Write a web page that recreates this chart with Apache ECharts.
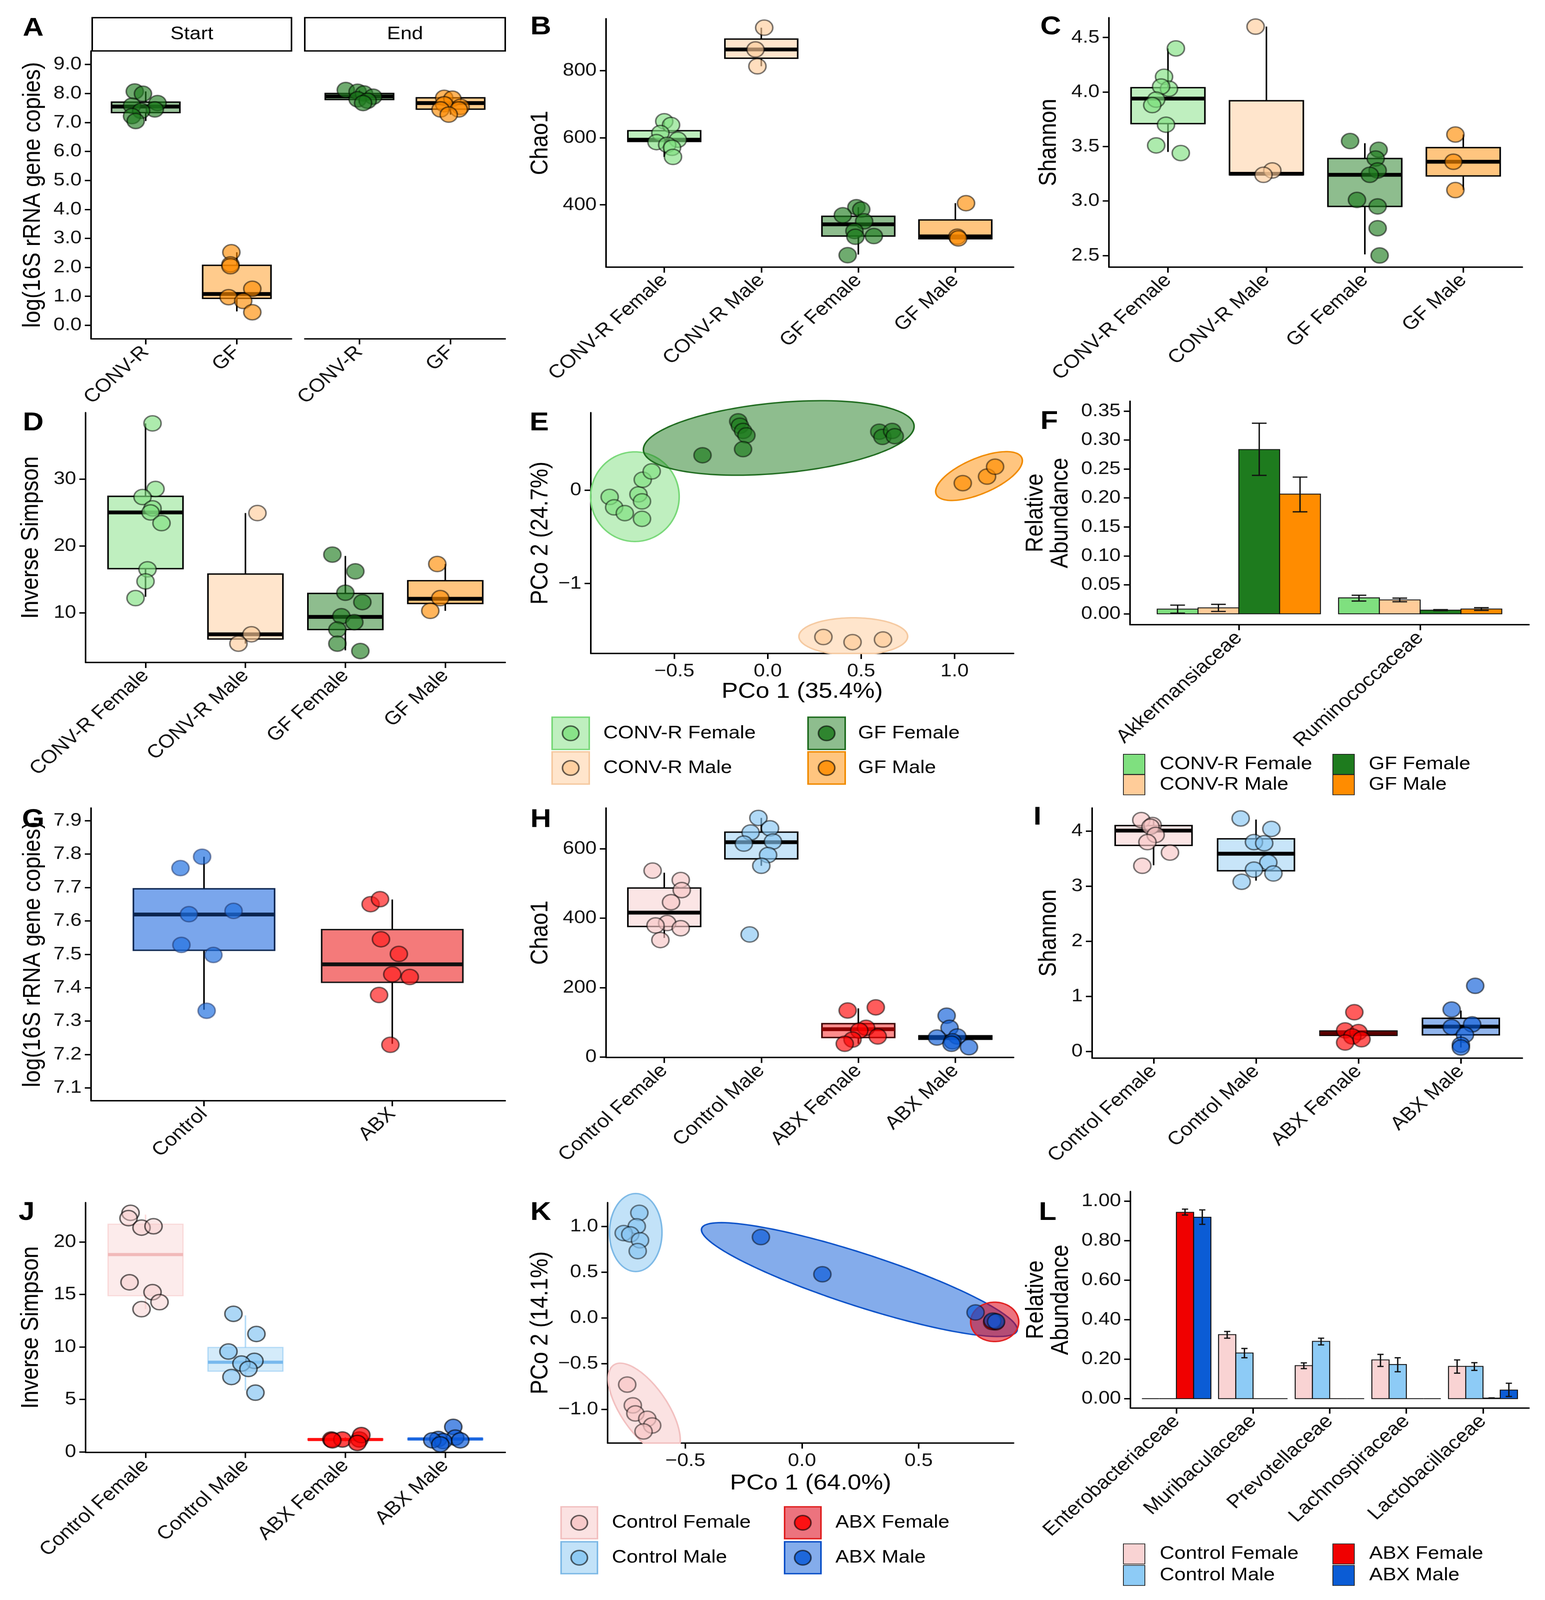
<!DOCTYPE html>
<html><head><meta charset="utf-8">
<script src="https://cdn.jsdelivr.net/npm/echarts@6/dist/echarts.min.js"></script>
<style>html,body{margin:0;padding:0;background:#fff;overflow:hidden}#chart{width:3954px;height:4618px;transform-origin:0 0}</style>
</head><body><div id="chart"></div>
<script>
// ================= DATA =================
const groupsCG = ['CONV-R Female','CONV-R Male','GF Female','GF Male'];
const groupsAB = ['Control Female','Control Male','ABX Female','ABX Male'];

// Panel A
const A_facets = ['Start','End'];
const A_cats = ['CONV-R','GF'];
const A_yTicks = [0,1,2,3,4,5,6,7,8,9];
const A_start_values = [[8.07,7.99,7.67,7.58,7.45,7.40,7.22,7.05],[2.52,2.10,2.04,1.26,0.97,0.84,0.45]];
const A_start_jitter = [[-0.12,-0.03,0.13,-0.15,0.10,-0.05,-0.15,-0.11],[-0.06,-0.07,-0.07,0.17,-0.09,0.07,0.17]];
const A_start_box = [[7.05,7.34,7.55,7.70,8.07],[0.48,0.93,1.08,2.07,2.52]];
const A_end_values = [[8.12,8.06,8.00,7.89,7.80,7.75,7.67],[7.85,7.82,7.63,7.54,7.45,7.45,7.27]];
const A_end_jitter = [[-0.15,-0.02,0.05,0.15,-0.02,0.09,0.04],[-0.07,0.02,-0.07,0.11,-0.11,0.09,-0.02]];
const A_end_box = [[7.67,7.79,7.90,8.00,8.12],[7.27,7.46,7.67,7.85,7.85]];

// Panel B (Chao1)
const B_yTicks = [400,600,800];
const B_values = [[649,638,614,594,587,579,570,543],[928,863,813],[393,386,369,351,322,307,305,250],[405,305,300]];
const B_jitter = [[0.0,0.07,-0.04,0.14,-0.08,0.03,0.08,0.09],[0.03,-0.06,-0.04],[-0.02,0.03,-0.16,0.06,-0.04,0.16,-0.03,-0.11],[0.11,0.02,0.03]];
const B_box = [[543,589,594,621,649],[813,837,863,894,928],[252,307,342,366,393],[299,299,306,355,405]];

// Panel C (Shannon)
const C_yTicks = [2.5,3.0,3.5,4.0,4.5];
const C_values = [[4.40,4.14,4.03,4.05,3.93,3.88,3.70,3.51,3.44],[4.60,3.28,3.24],[3.55,3.47,3.39,3.28,3.24,3.01,2.95,2.75,2.50],[3.61,3.36,3.10]];
const C_jitter = [[0.08,-0.04,0.01,-0.07,-0.12,-0.16,-0.02,-0.12,0.13],[-0.11,0.06,-0.03],[-0.15,0.14,0.11,0.13,0.05,-0.08,0.13,0.13,0.15],[-0.08,-0.10,-0.08]];
const C_box = [[3.45,3.71,3.94,4.04,4.40],[3.24,3.24,3.25,3.92,4.60],[2.51,2.95,3.24,3.39,3.53],[3.10,3.23,3.36,3.49,3.61]];

// Panel D (Inverse Simpson)
const D_yTicks = [10,20,30];
const D_values = [[38.3,28.5,27.3,25.6,25.0,23.4,16.5,14.7,12.2],[24.9,6.8,5.4],[18.7,16.2,13.0,11.6,9.5,8.6,7.5,5.4,4.3],[17.3,12.2,10.3]];
const D_jitter = [[0.07,0.10,-0.03,0.07,0.05,0.16,0.02,0.0,-0.10],[0.12,0.06,-0.07],[-0.13,0.10,0.0,0.17,-0.04,0.09,-0.08,-0.08,0.15],[-0.08,-0.05,-0.15]];
const D_box = [[12.4,16.6,25.0,27.4,38.3],[5.4,6.1,6.8,15.8,24.9],[4.4,7.5,9.4,12.9,18.5],[10.3,11.4,12.1,14.8,17.3]];

// Panel E (PCoA)
const E_xTicks = [-0.5,0,0.5,1.0];
const E_yTicks = [-1,0];
const E_x = [[-0.846,-0.822,-0.765,-0.692,-0.673,-0.673,-0.669,-0.621],[0.298,0.454,0.617],[-0.349,-0.158,-0.149,-0.132,-0.114,-0.132,0.597,0.614,0.666,0.680],[1.044,1.174,1.217]];
const E_y = [[-0.073,-0.184,-0.246,-0.045,-0.120,-0.307,0.112,0.201],[-1.573,-1.628,-1.600],[0.374,0.737,0.690,0.634,0.587,0.439,0.626,0.570,0.634,0.578],[0.075,0.145,0.251]];
// ellipse: centre x, centre y, semi-axis u (x,y), semi-axis v (x,y)
const E_ellipse = [[-0.711,-0.07,0.237,0,0,0.48],[0.458,-1.567,0.291,0,0,0.20],[0.059,0.559,0.724,0.139,-0.028,0.374],[1.131,0.151,0.225,0.209,0.0564,-0.157]];

// Panel F (relative abundance)
const F_cats = ['Akkermansiaceae','Ruminococcaceae'];
const F_yTicks = [0,0.05,0.10,0.15,0.20,0.25,0.30,0.35];
const F_mean = [[0.008,0.0275],[0.0103,0.0239],[0.2835,0.0063],[0.2066,0.0081]];
const F_lo = [[0.001,0.022],[0.004,0.0207],[0.239,0.0055],[0.176,0.0058]];
const F_hi = [[0.0149,0.032],[0.0162,0.027],[0.329,0.0071],[0.236,0.0105]];

// Panel G
const G_cats = ['Control','ABX'];
const G_yTicks = [7.1,7.2,7.3,7.4,7.5,7.6,7.7,7.8,7.9];
const G_values = [[7.792,7.758,7.620,7.630,7.528,7.498,7.331],[7.650,7.665,7.545,7.501,7.440,7.432,7.378,7.229]];
const G_jitter = [[-0.01,-0.125,-0.08,0.157,-0.12,0.05,0.014],[-0.115,-0.065,-0.06,0.035,0.0,0.093,-0.07,-0.01]];
const G_box = [[7.334,7.512,7.619,7.696,7.792],[7.232,7.416,7.470,7.574,7.664]];

// Panel H (Chao1)
const H_yTicks = [0,200,400,600];
const H_values = [[537,510,481,446,386,379,371,337],[689,659,647,621,615,582,551,353],[134,143,84,76,59,50,38],[119,84,56,59,45,28,38]];
const H_jitter = [[-0.12,0.17,0.18,0.07,0.03,-0.09,0.17,-0.04],[-0.03,0.09,-0.11,0.12,-0.18,0.07,0.0,-0.12],[-0.11,0.18,0.08,0.01,0.2,-0.06,-0.14],[-0.09,-0.06,-0.19,0.02,-0.03,0.14,-0.04]];
const H_box = [[343,376,416,487,531],[551,571,619,648,689],[38,56,80,96,140],[51,51,56,61,61]];

// Panel I (Shannon)
const I_yTicks = [0,1,2,3,4];
const I_values = [[4.20,4.11,4.08,3.93,3.80,3.61,3.37],[4.23,4.04,3.80,3.78,3.43,3.30,3.23,3.08],[0.71,0.38,0.35,0.27,0.22,0.16],[1.19,0.76,0.49,0.44,0.30,0.12,0.07]];
const I_jitter = [[-0.12,-0.01,-0.03,0.02,-0.06,0.16,-0.11],[-0.15,0.15,-0.02,0.08,0.12,-0.02,0.17,-0.14],[-0.04,-0.13,0.0,-0.06,0.03,-0.13],[0.14,-0.09,0.11,-0.09,0.04,0.0,0.0]];
const I_box = [[3.38,3.74,4.01,4.10,4.20],[3.10,3.28,3.59,3.86,4.21],[0.29,0.29,0.33,0.37,0.37],[0.07,0.30,0.45,0.60,0.74]];

// Panel J (Inverse Simpson)
const J_yTicks = [0,5,10,15,20];
const J_values = [[22.77,22.26,21.36,21.49,16.15,15.21,14.26,13.59],[13.15,11.23,9.56,8.67,8.41,7.90,7.13,5.64],[1.18,1.18,1.18,1.6,0.85,1.1],[2.38,1.23,1.36,1.03,1.10,1.1,0.72]];
const J_jitter = [[-0.15,-0.17,-0.04,0.08,-0.16,0.07,0.14,-0.04],[-0.12,0.11,-0.17,0.09,-0.04,0.03,-0.14,0.10],[-0.14,-0.03,0.14,0.16,0.12,-0.13],[0.08,-0.07,0.10,-0.02,0.15,-0.13,-0.05]];
const J_box = [[13.6,14.87,18.79,21.69,22.6],[5.85,7.69,8.54,9.95,13.0],[1.0,1.12,1.18,1.25,1.4],[1.03,1.15,1.23,1.3,1.4]];

// Panel K (PCoA)
const K_xTicks = [-0.5,0,0.5];
const K_yTicks = [-1,-0.5,0,0.5,1];
const K_x = [[-0.749,-0.725,-0.714,-0.663,-0.642,-0.679],[-0.697,-0.708,-0.764,-0.736,-0.694,-0.704],[0.824,0.818,0.830,0.826,0.815],[-0.176,0.0875,0.744,0.817,0.832]];
const K_y = [[-0.729,-0.956,-1.044,-1.103,-1.176,-1.241],[1.147,1.0,0.926,0.912,0.847,0.729],[-0.044,-0.040,-0.050,-0.035,-0.046],[0.882,0.476,0.059,-0.03,-0.04]];
const K_ellipse = [[-0.676,-1.0,0.124,-0.494,0.092,0.103],[-0.7125,0.932,0.1125,0,0,0.426],[0.826,-0.044,0.103,0,0,0.215],[0.246,0.418,0.675,-0.565,-0.05,-0.26]];

// Panel L (relative abundance)
const L_cats = ['Enterobacteriaceae','Muribaculaceae','Prevotellaceae','Lachnospiraceae','Lactobacillaceae'];
const L_yTicks = [0,0.2,0.4,0.6,0.8,1.0];
const L_mean = [[0,0.324,0.167,0.196,0.163],[0,0.231,0.290,0.173,0.163],[0.943,0,0,0,0.003],[0.918,0,0,0,0.0435]];
const L_lo = [[0,0.306,0.152,0.163,0.129],[0,0.207,0.272,0.136,0.143],[0.929,0,0,0,0.002],[0.882,0,0,0,0.011]];
const L_hi = [[0,0.340,0.181,0.224,0.196],[0,0.254,0.306,0.207,0.182],[0.959,0,0,0,0.004],[0.955,0,0,0,0.078]];

// ================= FIT TO VIEWPORT =================
// the figure is laid out at 3954x4618 and scaled with CSS to the real viewport
const W0 = 3954, H0 = 4618;
const VW = window.innerWidth || W0, VH = window.innerHeight || H0;
const el = document.getElementById('chart');
el.style.transform = 'scale(' + (VW / W0) + ',' + (VH / H0) + ')';

// ================= STYLE / HELPERS =================
const FONT = '"Liberation Sans", Arial, Helvetica, sans-serif';
const TXT = '#111';
const CG_col = ['#7FE07F','#FFCC99','#1E7B1E','#FF8C00'];
const AB_col = ['#F7C5C5','#85C5F2','#FF0000','#0A5AD8'];
function rgba(hex,a){const n=parseInt(hex.slice(1),16);return 'rgba('+((n>>16)&255)+','+((n>>8)&255)+','+(n&255)+','+a+')';}
const minus = s => String(s).replace('-', '\u2212');

const option = {animation:false, backgroundColor:'#fff', grid:[], xAxis:[], yAxis:[], series:[], graphic:[]};

function baseAxis(){
  return {type:'value', splitLine:{show:false},
    axisLine:{show:true, onZero:false, lineStyle:{color:'#000', width:4}},
    axisTick:{show:true, length:16, lineStyle:{color:'#000', width:4}},
    axisLabel:{fontSize:52, color:TXT, fontFamily:FONT, margin:24},
    nameTextStyle:{fontSize:63, color:'#000', fontFamily:FONT, lineHeight:64}};
}
function addGrid(r){
  option.grid.push({left:r[0], top:r[1], width:r[2], height:r[3], containLabel:false, outerBoundsMode:'none'});
  return option.grid.length-1;
}
function catX(gi, cats){
  const t = cats.map((c,i)=>i+1);
  const ax = baseAxis();
  ax.gridIndex = gi; ax.min = 0.4; ax.max = cats.length + 0.6;
  ax.axisTick.customValues = t; ax.axisLabel.customValues = t;
  ax.axisLabel.formatter = v => cats[Math.round(v)-1];
  ax.axisLabel.rotate = 45; ax.axisLabel.margin = 30; ax.axisLabel.fontSize = 54;
  option.xAxis.push(ax);
}
function valX(gi, min, max, ticks, fmt, name, gap){
  const ax = baseAxis();
  ax.gridIndex = gi; ax.min = min; ax.max = max;
  ax.axisTick.customValues = ticks; ax.axisLabel.customValues = ticks;
  ax.axisLabel.formatter = fmt; ax.axisLabel.margin = 26;
  if (name){ ax.name = name; ax.nameLocation = 'middle'; ax.nameGap = gap; }
  option.xAxis.push(ax);
}
function valY(gi, min, max, ticks, fmt, name, gap, hidden){
  const ax = baseAxis();
  ax.gridIndex = gi; ax.min = min; ax.max = max;
  ax.axisTick.customValues = ticks; ax.axisLabel.customValues = ticks;
  ax.axisLabel.formatter = fmt;
  if (name){ ax.name = name; ax.nameLocation = 'middle'; ax.nameGap = gap; ax.nameRotate = 90; }
  if (hidden){ ax.axisLine.show=false; ax.axisTick.show=false; ax.axisLabel.show=false; }
  option.yAxis.push(ax);
}
function addBoxes(gi, boxes, st){
  option.series.push({type:'custom', coordinateSystem:'cartesian2d', xAxisIndex:gi, yAxisIndex:gi, z:2,
    data: boxes.map((b,k)=>[k+1].concat(b)), encode:{x:0, y:[1,2,3,4,5]},
    renderItem:(params, api)=>{
      const k = params.dataIndex, x = api.value(0);
      const P = i => api.coord([x, api.value(i)]);
      const lo=P(1), q1=P(2), md=P(3), q3=P(4), hi=P(5);
      const hw = api.size([0.75,0])[0]/2;
      const ws = st.whisker ? st.whisker[k] : '#000';
      const ch = [];
      if (hi[1] < q3[1]-1) ch.push({type:'line', shape:{x1:md[0],y1:hi[1],x2:md[0],y2:q3[1]}, style:{stroke:ws, lineWidth:4}});
      if (lo[1] > q1[1]+1) ch.push({type:'line', shape:{x1:md[0],y1:q1[1],x2:md[0],y2:lo[1]}, style:{stroke:ws, lineWidth:4}});
      ch.push({type:'rect', shape:{x:md[0]-hw, y:q3[1], width:2*hw, height:Math.max(q1[1]-q3[1],0)}, style:{fill:st.fill[k], stroke:st.stroke[k], lineWidth:st.boxWidth||4}});
      ch.push({type:'line', shape:{x1:md[0]-hw,y1:md[1],x2:md[0]+hw,y2:md[1]}, style:{stroke:st.median[k], lineWidth:st.medianWidth||11}});
      return {type:'group', children:ch};
    }});
}
function addJitter(gi, values, jitter, st){
  values.forEach((vals,k)=>option.series.push({type:'scatter', xAxisIndex:gi, yAxisIndex:gi, z:3, symbol:'circle', symbolSize:44,
    data: vals.map((v,j)=>[k+1+jitter[k][j], v]),
    itemStyle:{color:st.pfill[k], borderColor:st.pstroke[k], borderWidth:4}}));
}
function addPco(gi, xs, ys, st){
  xs.forEach((arr,k)=>option.series.push({type:'scatter', xAxisIndex:gi, yAxisIndex:gi, z:3+(st.ptOrder?st.ptOrder[k]:0), symbol:'circle', symbolSize:44,
    data: arr.map((x,j)=>[x, ys[k][j]]),
    itemStyle:{color:st.pfill[k], borderColor:st.pstroke[k], borderWidth:4}}));
}
// ellipses are not clipped by the panel except at the bottom (x axis), as in the reference
function addEllipses(gi, ells, st, yFloor){
  option.series.push({type:'custom', coordinateSystem:'cartesian2d', xAxisIndex:gi, yAxisIndex:gi, z:1, clip:false,
    data: ells, encode:{x:0, y:1},
    renderItem:(params, api)=>{
      const k = params.dataIndex;
      const v = [0,1,2,3,4,5].map(i=>api.value(i));
      const pts = [];
      for (let t=0;t<144;t++){ const a=t/144*2*Math.PI;
        pts.push(api.coord([v[0]+v[2]*Math.cos(a)+v[4]*Math.sin(a), Math.max(yFloor, v[1]+v[3]*Math.cos(a)+v[5]*Math.sin(a))])); }
      return {type:'polygon', z2:(st.ellOrder?st.ellOrder[k]:k), shape:{points:pts}, style:{fill:st.fill[k], stroke:st.stroke[k], lineWidth:4}};
    }});
}
function addBars(gi, mean, lo, hi, colors){
  const data = [];
  mean.forEach((arr,k)=>arr.forEach((m,c)=>data.push([c+1, k, m, lo[k][c], hi[k][c]])));
  const n = mean.length;
  option.series.push({type:'custom', coordinateSystem:'cartesian2d', xAxisIndex:gi, yAxisIndex:gi, z:2,
    data, encode:{x:0, y:2},
    renderItem:(params, api)=>{
      const bw = 0.9/n, k = api.value(1);
      const x = api.value(0) + (k-(n-1)/2)*bw;
      const top = api.coord([x, api.value(2)]), base = api.coord([x, 0]);
      const w = api.size([bw,0])[0];
      const ch = [{type:'rect', shape:{x:top[0]-w/2, y:top[1], width:w, height:Math.max(base[1]-top[1],0)}, style:{fill:colors[k], stroke:'#111', lineWidth:2.5}}];
      const l = api.value(3), h = api.value(4);
      if (h > l){
        const ph = api.coord([x,h]), pl = api.coord([x,l]), cw = w*0.18;
        const es = {stroke:'#111', lineWidth:3.5};
        ch.push({type:'line', shape:{x1:top[0],y1:ph[1],x2:top[0],y2:pl[1]}, style:es});
        ch.push({type:'line', shape:{x1:top[0]-cw,y1:ph[1],x2:top[0]+cw,y2:ph[1]}, style:es});
        ch.push({type:'line', shape:{x1:top[0]-cw,y1:pl[1],x2:top[0]+cw,y2:pl[1]}, style:es});
      }
      return {type:'group', children:ch};
    }});
}
function gtext(x, y, text, size, weight, align){
  option.graphic.push({type:'text', x, y, z:100, style:{text, fontSize:size, fontWeight:weight||'normal', fontFamily:FONT, fill:'#000', align:align||'center', verticalAlign:'middle'}});
}
function grect(x,y,w,h,fill,stroke,lw){
  option.graphic.push({type:'rect', z:90, shape:{x, y, width:w, height:h}, style:{fill, stroke, lineWidth:lw}});
}
function gcircle(cx,cy,r,fill,stroke){
  option.graphic.push({type:'circle', z:91, shape:{cx, cy, r}, style:{fill, stroke, lineWidth:4}});
}
function legend(names, g, keyFn){
  names.forEach((nm,k)=>{
    const col = Math.floor(k/2), row = k%2;
    const x = g.kx[col], y = g.ky[row];
    keyFn(k, x, y);
    gtext(g.tx[col], y + g.kh/2, nm, 52, 'normal', 'left');
  });
}

const f1 = v => v.toFixed(1), f2 = v => v.toFixed(2), f0 = v => String(v);
const m1 = v => minus(v.toFixed(1)), m0 = v => minus(String(v));

// ================= PANEL A =================
const gA1 = addGrid([233,147,513,831]);
catX(gA1, A_cats); valY(gA1, -0.468, 9.468, A_yTicks, f1, 'log(16S rRNA gene copies)', 116);
const gA2 = addGrid([780,147,513,831]);
catX(gA2, A_cats); valY(gA2, -0.468, 9.468, A_yTicks, f1, null, 0, true);
const A_base = [CG_col[2], CG_col[3]];
const A_st = {fill:A_base.map(c=>rgba(c,0.45)), stroke:['#000','#000'], median:['#000','#000'], pfill:A_base.map(c=>rgba(c,0.8)), pstroke:['rgba(0,0,0,0.65)','rgba(0,0,0,0.65)']};
addBoxes(gA1, A_start_box, A_st); addJitter(gA1, A_start_values, A_start_jitter, A_st);
addBoxes(gA2, A_end_box, A_st); addJitter(gA2, A_end_values, A_end_jitter, A_st);
[[236,746],[780,1293]].forEach((r,i)=>{
  grect(r[0], 51, r[1]-r[0], 96, '#fff', '#000', 4);
  gtext((r[0]+r[1])/2, 99, A_facets[i], 52);
});

// common style for CONV-R/GF groups
const CG_st = {fill:CG_col.map(c=>rgba(c,0.5)), stroke:['#000','#000','#000','#000'], median:['#000','#000','#000','#000'],
  pfill:CG_col.map(c=>rgba(c,0.8)), pstroke:CG_col.map(()=> 'rgba(0,0,0,0.65)')};

// ================= PANEL B =================
const gB = addGrid([1551,54,1043,717]);
catX(gB, groupsCG); valY(gB, 214.4, 954.7, B_yTicks, f0, 'Chao1', 135);
addBoxes(gB, B_box, CG_st); addJitter(gB, B_values, B_jitter, CG_st);

// ================= PANEL C =================
const gC = addGrid([2838,51,1058,720]);
catX(gC, groupsCG); valY(gC, 2.393, 4.682, C_yTicks, f1, 'Shannon', 121);
addBoxes(gC, C_box, CG_st); addJitter(gC, C_values, C_jitter, CG_st);

// ================= PANEL D =================
const gD = addGrid([219,1191,1074,721]);
catX(gD, groupsCG); valY(gD, 2.59, 39.9, D_yTicks, f0, 'Inverse Simpson', 107);
addBoxes(gD, D_box, CG_st); addJitter(gD, D_values, D_jitter, CG_st);

// ================= PANEL E =================
const gE = addGrid([1512,1191,1082,695]);
valX(gE, -0.947, 1.316, E_xTicks, m1, 'PCo 1 (35.4%)', 79);
valY(gE, -1.749, 0.83, E_yTicks, m0, 'PCo 2 (24.7%)', 96);
const E_st = {fill:CG_col.map(c=>rgba(c,0.5)), stroke:['#78D878','#F5C9A0','#1E6B1E','#F08A00'],
  pfill:CG_col.map(c=>rgba(c,0.85)), pstroke:CG_col.map(()=> 'rgba(0,0,0,0.6)')};
addEllipses(gE, E_ellipse, E_st, -1.749); addPco(gE, E_x, E_y, E_st);
legend(groupsCG, {kx:[1413,2068], ky:[2070,2170], tx:[1544,2196], kh:93}, (k,x,y)=>{
  grect(x, y, 95, 93, E_st.fill[k], E_st.stroke[k], 4);
  gcircle(x+47.5, y+46.5, 21, E_st.pfill[k], 'rgba(0,0,0,0.6)');
});

// ================= PANEL F =================
const gF = addGrid([2892,1158,1021,645]);
catX(gF, F_cats); valY(gF, -0.0189, 0.367, F_yTicks, f2, 'Relative\nAbundance', 145);
addBars(gF, F_mean, F_lo, F_hi, CG_col);
legend(groupsCG, {kx:[2875,3411], ky:[2177,2236], tx:[2968,3503], kh:58}, (k,x,y)=>{
  grect(x, y, 55, 58, CG_col[k], '#222', 2);
});

// ABX styles
const AB_st = {fill:AB_col.map(c=>rgba(c,0.45)), stroke:['#000','#000','#3A0000','#000'], median:['#000','#000','#8B0000','#000'],
  pfill:AB_col.map(c=>rgba(c,0.8)), pstroke:AB_col.map(()=> 'rgba(0,0,0,0.65)')};

// ================= PANEL G =================
const gG = addGrid([233,2332,1060,845]);
catX(gG, G_cats); valY(gG, 7.0615, 7.938, G_yTicks, f1, 'log(16S rRNA gene copies)', 116);
const G_col = ['#1F6FE0','#FF1A1A'];
const G_st = {fill:['#7AA6EC','#F47A7A'], stroke:['#0B2550','#111'], median:['#0B2550','#111'],
  pfill:G_col.map(c=>rgba(c,0.85)), pstroke:['rgba(20,40,90,0.6)','rgba(0,0,0,0.65)']};
addBoxes(gG, G_box, G_st); addJitter(gG, G_values, G_jitter, G_st);

// ================= PANEL H =================
const gH = addGrid([1551,2332,1043,720]);
catX(gH, groupsAB); valY(gH, -1.4, 717.6, H_yTicks, f0, 'Chao1', 135);
addBoxes(gH, H_box, AB_st); addJitter(gH, H_values, H_jitter, AB_st);

// ================= PANEL I =================
const gI = addGrid([2795,2332,1101,722]);
catX(gI, groupsAB); valY(gI, -0.123, 4.42, I_yTicks, f0, 'Shannon', 78);
addBoxes(gI, I_box, {fill:[rgba(AB_col[0],0.45),rgba(AB_col[1],0.45),'#8B0000',rgba(AB_col[3],0.45)], stroke:['#000','#000','#000','#000'], median:['#000','#000','#5A0000','#000'], pfill:AB_st.pfill, pstroke:AB_st.pstroke});
addJitter(gI, I_values, I_jitter, AB_st);

// ================= PANEL J =================
const gJ = addGrid([219,3471,1074,721]);
catX(gJ, groupsAB); valY(gJ, -0.05, 23.74, J_yTicks, f0, 'Inverse Simpson', 107);
const J_st = {fill:AB_col.map(c=>rgba(c,0.35)), stroke:AB_col.map(c=>rgba(c,0.6)), median:['rgba(240,180,180,0.9)','rgba(110,180,235,0.9)','#FF1010','#1A66E0'],
  whisker:AB_col.map(c=>rgba(c,0.6)), medianWidth:9, boxWidth:3,
  pfill:[rgba(AB_col[0],0.55),rgba(AB_col[1],0.85),rgba(AB_col[2],0.9),rgba(AB_col[3],0.85)], pstroke:AB_col.map(()=> 'rgba(0,0,0,0.75)')};
addBoxes(gJ, J_box, J_st); addJitter(gJ, J_values, J_jitter, J_st);

// ================= PANEL K =================
const gK = addGrid([1555,3471,1039,694]);
valX(gK, -0.833, 0.907, K_xTicks, m1, 'PCo 1 (64.0%)', 85);
valY(gK, -1.368, 1.259, K_yTicks, m1, 'PCo 2 (14.1%)', 139);
const K_st = {fill:[rgba(AB_col[0],0.5),rgba(AB_col[1],0.5),'rgba(220,0,20,0.55)',rgba(AB_col[3],0.5)], stroke:['#F2C0C0','#7DB9E6','#E02020','#0A50C8'],
  pfill:AB_col.map(c=>rgba(c,0.85)), pstroke:AB_col.map(()=> 'rgba(0,0,0,0.6)'), ellOrder:[0,1,3,2], ptOrder:[0,1,2,3]};
addEllipses(gK, K_ellipse, K_st, -1.368); addPco(gK, K_x, K_y, K_st);
legend(groupsAB, {kx:[1436,2008], ky:[4349,4450], tx:[1566,2138], kh:92}, (k,x,y)=>{
  grect(x, y, 93, 92, K_st.fill[k], K_st.stroke[k], 4);
  gcircle(x+46.5, y+46, 21, K_st.pfill[k], 'rgba(0,0,0,0.6)');
});

// ================= PANEL L =================
const gL = addGrid([2893,3439,1020,625]);
catX(gL, L_cats); valY(gL, -0.0476, 1.048, L_yTicks, f2, 'Relative\nAbundance', 145);
const L_col = ['#F9D3D3','#8DCBF6','#F00000','#0B5CD5'];
addBars(gL, L_mean, L_lo, L_hi, L_col);
legend(groupsAB, {kx:[2875,3411], ky:[4456,4518], tx:[2968,3504], kh:58}, (k,x,y)=>{
  grect(x, y, 55, 58, L_col[k], '#222', 2);
});

// ================= PANEL LETTERS =================
[['A',85,83],['B',1384,79],['C',2689,79],['D',85,1222],['E',1380,1222],['F',2685,1218],
 ['G',85,2367],['H',1384,2367],['I',2655,2360],['J',68,3501],['K',1384,3501],['L',2681,3501]]
 .forEach(p=>gtext(p[1], p[2], p[0], 74, 'bold'));

const chart = echarts.init(el, null, {renderer:'canvas'});
chart.setOption(option);
</script></body></html>
